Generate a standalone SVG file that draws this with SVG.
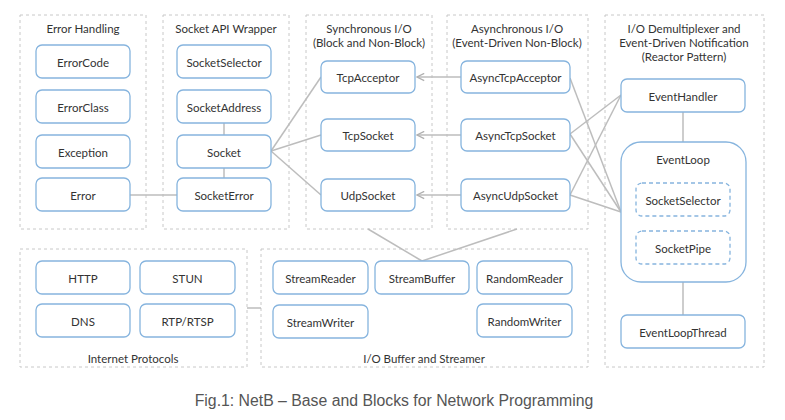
<svg xmlns="http://www.w3.org/2000/svg" width="785" height="420" viewBox="0 0 785 420">
<style>
.grp{fill:none;stroke:#c8c8c8;stroke-width:1;stroke-dasharray:3 3}
.nd{fill:#fff;stroke:#86b4de;stroke-width:1.3}
.dn{fill:#fff;stroke:#86b4de;stroke-width:1.3;stroke-dasharray:4 3}
.t{font-family:Lato,"Open Sans",sans-serif;font-size:11.5px;fill:#333;text-anchor:middle;dominant-baseline:central}
.c{fill:none;stroke:#bdbdbd;stroke-width:1.5}
.cap{font-family:"Liberation Sans",Arial,sans-serif;font-size:15.8px;fill:#555;text-anchor:middle}
</style>
<defs>
<marker id="ah" viewBox="0 0 10 10" refX="9" refY="5" markerWidth="9" markerHeight="9" orient="auto" markerUnits="userSpaceOnUse">
<path d="M1,1 L9,5 L1,9" fill="none" stroke="#b0b0b0" stroke-width="1.5"/>
</marker>
</defs>
<rect width="785" height="420" fill="#fff"/>
<g id="groups">
<g id="g-error"><rect class="grp" x="20" y="15" width="126" height="214"/><text class="t" x="83" y="28">Error Handling</text></g>
<g id="g-socket"><rect class="grp" x="163" y="15" width="126" height="214"/><text class="t" x="226" y="28">Socket API Wrapper</text></g>
<g id="g-sync"><rect class="grp" x="306" y="15" width="126" height="214"/><text class="t" x="369" y="28">Synchronous I/O</text><text class="t" x="369" y="42">(Block and Non-Block)</text></g>
<g id="g-async"><rect class="grp" x="447" y="15" width="141" height="214"/><text class="t" x="517" y="28">Asynchronous I/O</text><text class="t" x="517" y="42">(Event-Driven Non-Block)</text></g>
<g id="g-demux"><rect class="grp" x="605" y="15" width="159" height="352"/><text class="t" x="684" y="28">I/O Demultiplexer and</text><text class="t" x="684" y="42">Event-Driven Notification</text><text class="t" x="684" y="56">(Reactor Pattern)</text></g>
<g id="g-inet"><rect class="grp" x="20" y="249" width="227" height="118"/><text class="t" x="133" y="358">Internet Protocols</text></g>
<g id="g-iobuf"><rect class="grp" x="261" y="249" width="327" height="118"/><text class="t" x="424" y="358">I/O Buffer and Streamer</text></g>
</g>
<g id="connectors">
<line class="c" x1="130" y1="195" x2="177" y2="195"/>
<line class="c" x1="224" y1="123" x2="224" y2="135"/>
<line class="c" x1="224" y1="168" x2="224" y2="178"/>
<line class="c" x1="271" y1="151" x2="321" y2="77"/>
<line class="c" x1="271" y1="151" x2="321" y2="135"/>
<line class="c" x1="271" y1="151" x2="321" y2="195"/>
<line class="c" x1="461" y1="77" x2="417" y2="77" marker-end="url(#ah)"/>
<line class="c" x1="461" y1="135" x2="417" y2="135" marker-end="url(#ah)"/>
<line class="c" x1="461" y1="195" x2="417" y2="195" marker-end="url(#ah)"/>
<line class="c" x1="570" y1="78" x2="621" y2="212"/>
<line class="c" x1="570" y1="134" x2="621" y2="95"/>
<line class="c" x1="570" y1="134" x2="621" y2="212"/>
<line class="c" x1="570" y1="195" x2="621" y2="95"/>
<line class="c" x1="570" y1="195" x2="621" y2="212"/>
<line class="c" x1="683" y1="112" x2="683" y2="142"/>
<line class="c" x1="683" y1="282" x2="683" y2="315"/>
<line class="c" x1="422" y1="261" x2="368" y2="229"/>
<line class="c" x1="422" y1="261" x2="517" y2="229"/>
<line class="c" x1="247" y1="308" x2="261" y2="308"/>
</g>
<g id="n-errorcode"><rect class="nd" x="36" y="45" width="94" height="33" rx="6"/><text class="t" x="83" y="62">ErrorCode</text></g>
<g id="n-errorclass"><rect class="nd" x="36" y="90" width="94" height="33" rx="6"/><text class="t" x="83" y="107">ErrorClass</text></g>
<g id="n-exception"><rect class="nd" x="36" y="135" width="94" height="33" rx="6"/><text class="t" x="83" y="152">Exception</text></g>
<g id="n-error"><rect class="nd" x="36" y="178" width="94" height="33" rx="6"/><text class="t" x="83" y="195">Error</text></g>
<g id="n-socketselector"><rect class="nd" x="177" y="45" width="94" height="33" rx="6"/><text class="t" x="224" y="62">SocketSelector</text></g>
<g id="n-socketaddress"><rect class="nd" x="177" y="90" width="94" height="33" rx="6"/><text class="t" x="224" y="107">SocketAddress</text></g>
<g id="n-socket"><rect class="nd" x="177" y="135" width="94" height="33" rx="6"/><text class="t" x="224" y="152">Socket</text></g>
<g id="n-socketerror"><rect class="nd" x="177" y="178" width="94" height="33" rx="6"/><text class="t" x="224" y="195">SocketError</text></g>
<g id="n-tcpacceptor"><rect class="nd" x="321" y="61" width="94" height="32" rx="6"/><text class="t" x="368" y="77">TcpAcceptor</text></g>
<g id="n-tcpsocket"><rect class="nd" x="321" y="119" width="94" height="32" rx="6"/><text class="t" x="368" y="135">TcpSocket</text></g>
<g id="n-udpsocket"><rect class="nd" x="321" y="179" width="94" height="32" rx="6"/><text class="t" x="368" y="195">UdpSocket</text></g>
<g id="n-asynctcpacceptor"><rect class="nd" x="461" y="61" width="109" height="32" rx="6"/><text class="t" x="515.5" y="77">AsyncTcpAcceptor</text></g>
<g id="n-asynctcpsocket"><rect class="nd" x="461" y="119" width="109" height="32" rx="6"/><text class="t" x="515.5" y="135">AsyncTcpSocket</text></g>
<g id="n-asyncudpsocket"><rect class="nd" x="461" y="179" width="109" height="32" rx="6"/><text class="t" x="515.5" y="195">AsyncUdpSocket</text></g>
<g id="n-eventhandler"><rect class="nd" x="621" y="79" width="124" height="33" rx="6"/><text class="t" x="683" y="96">EventHandler</text></g>
<g id="n-eventloop"><rect class="nd" x="621" y="142" width="125" height="140" rx="20"/><text class="t" x="683" y="159">EventLoop</text>
<g id="n-el-socketselector"><rect class="dn" x="636" y="183" width="94" height="33" rx="6"/><text class="t" x="683" y="200">SocketSelector</text></g>
<g id="n-el-socketpipe"><rect class="dn" x="636" y="231" width="94" height="33" rx="6"/><text class="t" x="683" y="248">SocketPipe</text></g>
</g>
<g id="n-eventloopthread"><rect class="nd" x="621" y="315" width="124" height="33" rx="6"/><text class="t" x="683" y="332">EventLoopThread</text></g>
<g id="n-http"><rect class="nd" x="36" y="261" width="94" height="33" rx="6"/><text class="t" x="83" y="278">HTTP</text></g>
<g id="n-stun"><rect class="nd" x="140" y="261" width="95" height="33" rx="6"/><text class="t" x="187.5" y="278">STUN</text></g>
<g id="n-dns"><rect class="nd" x="36" y="304" width="94" height="33" rx="6"/><text class="t" x="83" y="321">DNS</text></g>
<g id="n-rtp"><rect class="nd" x="140" y="304" width="95" height="33" rx="6"/><text class="t" x="187.5" y="321">RTP/RTSP</text></g>
<g id="n-streamreader"><rect class="nd" x="273" y="261" width="95" height="33" rx="6"/><text class="t" x="320.5" y="278">StreamReader</text></g>
<g id="n-streamwriter"><rect class="nd" x="273" y="305" width="95" height="33" rx="6"/><text class="t" x="320.5" y="322">StreamWriter</text></g>
<g id="n-streambuffer"><rect class="nd" x="375" y="261" width="94" height="33" rx="6"/><text class="t" x="422" y="278">StreamBuffer</text></g>
<g id="n-randomreader"><rect class="nd" x="477" y="261" width="95" height="33" rx="6"/><text class="t" x="524.5" y="278">RandomReader</text></g>
<g id="n-randomwriter"><rect class="nd" x="477" y="304" width="95" height="33" rx="6"/><text class="t" x="524.5" y="321">RandomWriter</text></g>
<text class="cap" x="394" y="406">Fig.1: NetB – Base and Blocks for Network Programming</text>
</svg>
